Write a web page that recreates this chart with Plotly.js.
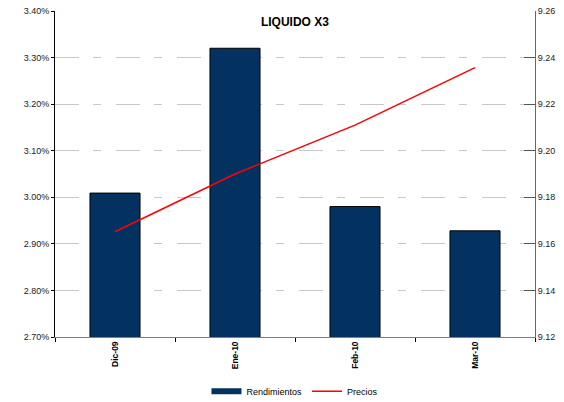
<!DOCTYPE html>
<html>
<head>
<meta charset="utf-8">
<script src="https://cdn.plot.ly/plotly-3.0.1.min.js"></script>
<style>
html,body{margin:0;padding:0;background:#fff;}
#chart{width:564px;height:402px;}
</style>
</head>
<body>
<div id="chart"></div>
<script>
const categories = ["Dic-09", "Ene-10", "Feb-10", "Mar-10"];
const rendimientos = [0.03009, 0.03320, 0.02980, 0.02928];
const precios = [9.1652, 9.1900, 9.2110, 9.2357];
const leftTicks = [0.027, 0.028, 0.029, 0.030, 0.031, 0.032, 0.033, 0.034];
const rightTicks = [9.12, 9.14, 9.16, 9.18, 9.20, 9.22, 9.24, 9.26];

const font = "Liberation Sans, Arial, sans-serif";
const barColor = "#033260";

const traces = [
  {
    type: "bar",
    name: "Rendimientos",
    x: categories,
    y: rendimientos,
    width: 0.417,
    marker: {color: barColor, line: {color: "#000000", width: 1}},
    yaxis: "y",
    showlegend: false
  },
  {
    type: "scatter",
    mode: "lines",
    name: "Rendimientos",
    x: [null],
    y: [null],
    line: {color: barColor, width: 6},
    yaxis: "y",
    showlegend: true
  },
  {
    type: "scatter",
    mode: "lines",
    name: "Precios",
    x: categories,
    y: precios,
    line: {color: "#ff0000", width: 1.5},
    yaxis: "y2"
  }
];

const layout = {
  width: 564,
  height: 402,
  margin: {l: 55, r: 29, t: 11, b: 65, autoexpand: false},
  paper_bgcolor: "#ffffff",
  plot_bgcolor: "#ffffff",
  font: {family: font, size: 9, color: "#222"},
  showlegend: true,
  title: {
    text: "<b>LIQUIDO X3</b>",
    font: {family: font, size: 12, color: "#000"},
    x: 0.523, xanchor: "center",
    y: 0.945, yanchor: "middle"
  },
  xaxis: {
    type: "category",
    range: [-0.5, 3.5],
    tickson: "boundaries",
    ticks: "outside",
    ticklen: 4,
    tickcolor: "#000",
    showline: true,
    linecolor: "#808080",
    linewidth: 1,
    showgrid: false,
    automargin: false,
    tickangle: -90,
    tickfont: {family: font, size: 8.5, color: "#000", weight: "bold"}
  },
  yaxis: {
    range: [0.027, 0.034],
    tickvals: leftTicks,
    tickformat: ".2%",
    ticks: "outside",
    ticklen: 3,
    tickcolor: "#000",
    showline: true,
    linecolor: "#000",
    linewidth: 1,
    showgrid: true,
    gridcolor: "#c8c8c8",
    gridwidth: 1,
    griddash: "24px,14px,8px,15px",
    zeroline: false,
    automargin: false,
    tickfont: {family: font, size: 9, color: "#222"}
  },
  yaxis2: {
    overlaying: "y",
    side: "right",
    range: [9.12, 9.26],
    tickvals: rightTicks,
    tickformat: ".2f",
    ticks: "inside",
    ticklen: 11,
    tickcolor: "#555",
    showline: true,
    linecolor: "#666",
    linewidth: 1,
    showgrid: false,
    zeroline: false,
    automargin: false,
    tickfont: {family: font, size: 9, color: "#222"}
  },
  legend: {
    orientation: "h",
    x: 0.523, xanchor: "center",
    xref: "container",
    yref: "container",
    y: 0.027, yanchor: "middle",
    font: {family: font, size: 9, color: "#000"},
    itemwidth: 30,
    tracegroupgap: 0
  }
};

Plotly.newPlot("chart", traces, layout, {displayModeBar: false, staticPlot: true});
</script>
</body>
</html>
